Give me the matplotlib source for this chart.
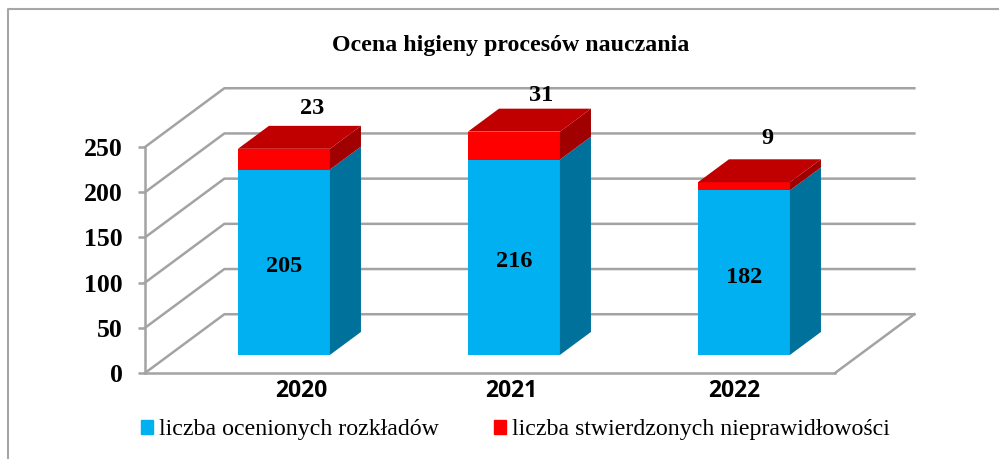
import matplotlib
matplotlib.use('Agg')
import matplotlib.pyplot as plt
from matplotlib.lines import Line2D
from matplotlib.patches import Patch, Polygon

years = ['2020', '2021', '2022']
ocenione = [205, 216, 182]
nieprawidlowe = [23, 31, 9]
y_ticks = [0, 50, 100, 150, 200, 250]

title = 'Ocena higieny procesów nauczania'
label_ocenione = 'liczba ocenionych rozkładów'
label_nieprawidlowe = 'liczba stwierdzonych nieprawidłowości'

# colours
blue, blue_side = '#00B0F0', '#00719B'
red, red_top, red_side = '#FF0000', '#C00000', '#A00000'
grid = '#A3A3A3'
line_w = 1.8

# fake 3d: depth of the walls and of the bars, in axis units
wall_dx, wall_dy = 0.345, 65.0
bar_dx, bar_dy = 0.135, 25.4
bar_base = 20
bar_width = 0.4

# the labels above the bars are placed by hand in the original
top_label_dx = [0.122, 0.117, 0.104]
top_label_dy = [45, 40, 48]

W, H = 999, 459
fig = plt.figure(figsize=(W / 100, H / 100), dpi=100)
ax = fig.add_axes([145 / W, (H - 373) / H, 690 / W, 226 / H])
ax.set_xlim(-0.604, 2.396)
ax.set_ylim(0, 250)
ax.patch.set_visible(False)

for s in ['top', 'right']:
    ax.spines[s].set_visible(False)
for s in ['left', 'bottom']:
    ax.spines[s].set_color(grid)
    ax.spines[s].set_linewidth(line_w)

x0, x1 = ax.get_xlim()
for t in y_ticks:
    ax.plot([x0, x0 + wall_dx, x1 + wall_dx],
            [t, t + wall_dy, t + wall_dy], color=grid, lw=line_w, clip_on=False, zorder=1)
# right edge of the floor
ax.plot([x1, x1 + wall_dx], [0, wall_dy], color=grid, lw=line_w, clip_on=False, zorder=1)

for i in range(len(years)):
    a, b = ocenione[i], nieprawidlowe[i]
    ax.bar(i, a, bar_width, bottom=bar_base, color=blue, zorder=3, clip_on=False)
    ax.bar(i, b, bar_width, bottom=bar_base + a, color=red, zorder=3, clip_on=False)
    r = i + bar_width / 2
    l = i - bar_width / 2
    y1 = bar_base + a
    y2 = y1 + b
    ax.add_patch(Polygon([(r, bar_base), (r + bar_dx, bar_base + bar_dy),
                          (r + bar_dx, y1 + bar_dy), (r, y1)],
                         color=blue_side, zorder=3, clip_on=False, lw=0))
    ax.add_patch(Polygon([(r, y1), (r + bar_dx, y1 + bar_dy),
                          (r + bar_dx, y2 + bar_dy), (r, y2)],
                         color=red_side, zorder=3, clip_on=False, lw=0))
    ax.add_patch(Polygon([(l, y2), (l + bar_dx, y2 + bar_dy),
                          (r + bar_dx, y2 + bar_dy), (r, y2)],
                         color=red_top, zorder=3, clip_on=False, lw=0))
    ax.text(i, bar_base + a * 0.5 - 5, str(a), ha='center', va='center', family='Liberation Serif',
            weight='bold', fontsize=17.5, zorder=5)
    ax.text(i + top_label_dx[i], y2 + top_label_dy[i], str(b), ha='center', va='center',
            family='Liberation Serif', weight='bold', fontsize=17.5, zorder=5, clip_on=False)

ax.set_yticks(y_ticks)
ax.set_yticklabels(y_ticks, family='Liberation Serif', weight='bold', fontsize=18.5)
ax.tick_params(axis='y', length=5, width=line_w, color=grid, pad=11)

# year labels sit a bit off the bars in the original
ax.set_xticks([0.074, 0.987, 1.96])
ax.set_xticklabels(years, family='Open Sans', weight='bold', fontsize=16.5)
ax.tick_params(axis='x', length=0, pad=4)

fig.text(511 / W, 1 - 45 / H, title, ha='center', va='center', family='Liberation Serif',
         weight='bold', fontsize=17.2)

handles = [Patch(color=blue, label=label_ocenione), Patch(color=red, label=label_nieprawidlowe)]
fig.legend(handles=handles, loc='center left', bbox_to_anchor=(141 / W, 1 - 430 / H), ncol=2,
           frameon=False, borderpad=0, borderaxespad=0, handlelength=0.5, handleheight=0.5,
           handletextpad=0.25, columnspacing=2.3,
           prop={'family': 'Liberation Serif', 'size': 17.2})

# chart frame
fig.add_artist(Line2D([8 / W, 8 / W, 1], [0, 1 - 9 / H, 1 - 9 / H], color='#A6A6A6', lw=1.5))

fig.savefig('out.png', dpi=100)
